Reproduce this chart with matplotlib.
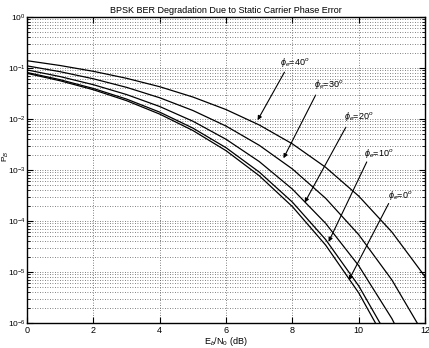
import matplotlib
matplotlib.use("Agg")
import matplotlib.pyplot as plt
from matplotlib.ticker import LogLocator, NullFormatter

plt.rcParams['font.family'] = ['Liberation Sans', 'DejaVu Sans']
plt.rcParams['mathtext.fontset'] = 'custom'
plt.rcParams['mathtext.rm'] = 'Liberation Sans'
plt.rcParams['mathtext.it'] = 'Liberation Sans:italic'
plt.rcParams['mathtext.sf'] = 'Liberation Sans'

# Eb/N0 (dB) and bit error probability, one list per phase error
ebn0_db = [0, 1, 2, 3, 4, 5, 6, 7, 8, 9, 10, 11, 12]
pb_0 = [0.0786, 0.0562, 0.0375, 0.0229, 0.01248, 0.00595, 0.00239, 7.72e-4,
        1.91e-4, 3.37e-5, 3.87e-6, 2.6e-7]
pb_10 = [0.0818, 0.0590, 0.0397, 0.0246, 0.01364, 0.00663, 0.00273, 9.11e-4,
         2.34e-4, 4.33e-5, 5.30e-6, 3.87e-7]
pb_20 = [0.0919, 0.0679, 0.0471, 0.0302, 0.01758, 0.00905, 0.00400, 0.001464,
         4.21e-4, 9.0e-5, 1.32e-5, 1.21e-6, 6.1e-8]
pb_30 = [0.1103, 0.0847, 0.0615, 0.0418, 0.0261, 0.01469, 0.00726, 0.00305,
         0.001047, 2.79e-4, 5.37e-5, 6.94e-6, 5.42e-7]
pb_40 = [0.1393, 0.1120, 0.0862, 0.0629, 0.0430, 0.0270, 0.01531, 0.00764,
         0.00325, 0.001131, 3.07e-4, 6.05e-5, 8.05e-6]

curves = [pb_0, pb_10, pb_20, pb_30, pb_40]
labels = ['0', '10', '20', '30', '40']

# label position, arrow tail, arrow head (data coords)
label_pos = [(10.88, 3.2e-4), (10.15, 2.1e-3), (9.55, 1.1e-2), (8.64, 4.7e-2), (7.64, 0.126)]
arrow_tail = [(10.9, 2.2e-4), (10.24, 1.44e-3), (9.61, 6.9e-3), (8.70, 2.95e-2), (7.76, 8.3e-2)]
arrow_head = [(9.70, 6.9e-6), (9.09, 3.9e-5), (8.37, 2.3e-4), (7.73, 1.7e-3), (6.95, 9.5e-3)]

fig = plt.figure(figsize=(4.29, 3.48), dpi=100)
ax = fig.add_axes([0.063, 0.072, 0.928, 0.879])

for pb in curves:
    ax.semilogy(ebn0_db[:len(pb)], pb, color='k', lw=0.9)

for lab, tp, tl, hd in zip(labels, label_pos, arrow_tail, arrow_head):
    ax.text(tp[0], tp[1], r'$\phi_e$=' + lab + r'$^o$', fontsize=6.5, ha='left', va='center')
    ax.annotate('', xy=hd, xytext=tl,
                arrowprops=dict(arrowstyle='-|>', color='k', lw=0.8,
                                mutation_scale=6, shrinkA=0, shrinkB=0))

ax.set_xlim(0, 12)
ax.set_ylim(1e-6, 1)
ax.set_xticks([0, 2, 4, 6, 8, 10, 12])
ax.yaxis.set_major_locator(LogLocator(base=10, numticks=10))
ax.yaxis.set_minor_locator(LogLocator(base=10, subs=range(2, 10), numticks=20))
ax.yaxis.set_minor_formatter(NullFormatter())

ax.grid(True, which='major', linestyle=(0, (1, 2)), color='0.35', lw=0.6)
ax.grid(True, which='minor', axis='y', linestyle=(0, (1, 2)), color='0.35', lw=0.6)
ax.tick_params(which='both', direction='in', top=True, right=True, labelsize=6.5, pad=2)
ax.tick_params(axis='y', labelsize=6, pad=1)
ax.tick_params(which='major', length=4)
ax.tick_params(which='minor', length=2)
for s in ax.spines.values():
    s.set_linewidth(1.0)

ax.set_title('BPSK BER Degradation Due to Static Carrier Phase Error', fontsize=6.5, pad=3)
ax.set_xlabel(r'E$_b$/N$_0$ (dB)', fontsize=6.5)
ax.xaxis.set_label_coords(0.5, -0.04)
ax.set_ylabel(r'P$_B$', fontsize=6)
ax.yaxis.set_label_coords(-0.041, 0.545)

fig.savefig('out.png', dpi=100)
